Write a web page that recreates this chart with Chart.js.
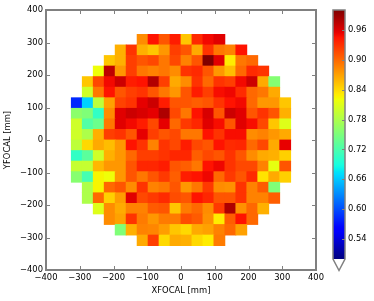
<!DOCTYPE html>
<html>
<head>
<meta charset="utf-8">
<style>
html,body{margin:0;padding:0;background:#fff;width:374px;height:301px;overflow:hidden}
canvas{position:absolute;left:0;top:0}
</style>
<script src="https://cdn.jsdelivr.net/npm/chart.js@4"></script>
</head>
<body>
<canvas id="map" width="374" height="301"></canvas>
<canvas id="bar" width="374" height="301"></canvas>
<script>
const _ = null;
const xCenters = [-308.75,-276.25,-243.75,-211.25,-178.75,-146.25,-113.75,-81.25,-48.75,-16.25,16.25,48.75,81.25,113.75,146.25,178.75,211.25,243.75,276.25,308.75];
const rowBottoms = [292.5,260,227.5,195,162.5,130,97.5,65,32.5,0,-32.5,-65,-97.5,-130,-162.5,-195,-227.5,-260,-292.5,-325];
const cellSize = 32.5;
const row00 = [_,_,_,_,_,_,.881,.945,.91,.94,.85,.933,.95,.958,_,_,_,_,_,_];
const row01 = [_,_,_,_,.862,.928,.862,.85,.875,.922,.91,.865,.928,.892,.886,.945,_,_,_,_];
const row02 = [_,_,_,.85,.862,.922,.91,.917,.892,.917,.886,.91,1.0,.958,.83,.892,.90,_,_,_];
const row03 = [_,_,.82,.973,.875,.922,.892,.886,.892,.881,.928,.933,.91,.875,.855,.90,.933,.928,_,_];
const row04 = [_,.85,.917,.95,.967,.94,.945,.978,.922,.865,.881,.928,.90,.928,.922,.95,.967,.865,.755,_];
const row05 = [_,.80,.892,.945,.91,.922,.928,.91,.892,.875,.91,.94,.922,.948,.952,.933,.90,.892,.865,_];
const row06 = [.582,.665,.79,.87,.92,.928,.956,.967,.94,.91,.91,.905,.91,.928,.945,.95,.90,.875,.875,.85];
const row07 = [.76,.752,.705,.881,.958,.967,.962,.956,.98,.917,.892,.945,.962,.91,.967,.958,.91,.928,.91,.862];
const row08 = [.80,.725,.74,.892,.958,.95,.94,.917,.956,.90,.925,.935,.958,.948,.91,.958,.948,.917,.85,.81];
const row09 = [.80,.78,.862,.922,.928,.91,.956,.922,.91,.917,.892,.892,.945,.928,.948,.948,.881,.886,.875,.865];
const row10 = [.79,.84,.865,.855,.875,.945,.928,.886,.928,.917,.94,.917,.91,.945,.933,.935,.90,.917,.865,.955];
const row11 = [.705,.73,.80,.862,.875,.90,.922,.922,.928,.935,.935,.905,.917,.91,.928,.91,.881,.865,.862,.845];
const row12 = [.795,.795,.858,.875,.875,.91,.935,.935,.94,.91,.905,.892,.945,.952,.928,.917,.917,.886,.815,.91];
const row13 = [.757,.717,.825,.82,.875,.91,.892,.91,.925,.905,.94,.945,.952,.90,.925,.91,.933,.835,.865,.845];
const row14 = [_,.78,.825,.90,.91,.881,.928,.886,.892,.91,.875,.892,.925,.881,.878,.928,.886,.907,.752,_];
const row15 = [_,.78,.90,.845,.872,.958,.917,.925,.933,.915,.91,.945,.935,.91,.91,.928,.886,.886,.905,_];
const row16 = [_,_,.81,.881,.865,.886,.886,.907,.91,.85,.89,.90,.881,.925,.98,.878,.90,.862,_,_];
const row17 = [_,_,_,.881,.87,.928,.89,.875,.89,.89,.915,.907,.878,.83,.905,.945,.90,_,_,_];
const row18 = [_,_,_,_,.752,.862,.886,.884,.872,.85,.84,.865,.87,.886,.90,.87,_,_,_,_];
const row19 = [_,_,_,_,_,_,.865,.922,.84,.865,.862,.84,.83,.89,_,_,_,_,_,_];
const rows = [row00,row01,row02,row03,row04,row05,row06,row07,row08,row09,row10,row11,row12,row13,row14,row15,row16,row17,row18,row19];
const axisTicks = [-400,-300,-200,-100,0,100,200,300,400];
const colorbarTicks = [0.54,0.60,0.66,0.72,0.78,0.84,0.90,0.96];
const vmin = 0.5, vmax = 1.0;
const FONT = {family:'"DejaVu Sans"', size:8.4};
const SPINE = '#808080';

function lerpStops(t, stops){
  if(t<=stops[0][0]) return stops[0][1];
  for(let i=1;i<stops.length;i++){
    if(t<=stops[i][0]){
      const a=stops[i-1], b=stops[i];
      return a[1]+(b[1]-a[1])*(t-a[0])/(b[0]-a[0]);
    }
  }
  return stops[stops.length-1][1];
}
const RS=[[0,0],[.35,0],[.66,1],[.89,1],[1,.5]];
const GS=[[0,0],[.125,0],[.375,1],[.64,1],[.91,0],[1,0]];
const BS=[[0,.5],[.11,1],[.34,1],[.65,0],[1,0]];
function jet(t){
  const c=s=>Math.round(255*lerpStops(t,s));
  return `rgb(${c(RS)},${c(GS)},${c(BS)})`;
}
const points=[], colors=[];
rows.forEach((row,r)=>row.forEach((v,c)=>{
  if(v===null) return;
  points.push({x:xCenters[c], y:[rowBottoms[r], rowBottoms[r]+cellSize]});
  colors.push(jet((v-vmin)/(vmax-vmin)));
}));
const minus = v => String(v).replace('-','\u2212');

const framePlugin = {
  id:'frame',
  afterDatasetsDraw(chart){
    const {ctx,chartArea:a,scales:{x,y}}=chart;
    ctx.save();
    ctx.strokeStyle=SPINE;
    ctx.lineWidth=1;
    ctx.beginPath();
    axisTicks.forEach(t=>{
      const px=Math.round(x.getPixelForValue(t))+.5, py=Math.round(y.getPixelForValue(t))+.5;
      ctx.moveTo(px,a.top); ctx.lineTo(px,a.top+4);
      ctx.moveTo(px,a.bottom); ctx.lineTo(px,a.bottom-4);
      ctx.moveTo(a.left,py); ctx.lineTo(a.left+4,py);
      ctx.moveTo(a.right,py); ctx.lineTo(a.right-4,py);
    });
    ctx.stroke();
    ctx.lineWidth=2;
    ctx.strokeRect(a.left,a.top,a.right-a.left,a.bottom-a.top);
    ctx.restore();
  }
};

new Chart(document.getElementById('map'),{
  type:'bar',
  data:{datasets:[{data:points,backgroundColor:colors,borderWidth:0,barPercentage:1,categoryPercentage:1,inflateAmount:0.4}]},
  options:{
    responsive:false,animation:false,
    layout:{padding:{top:10,right:58,left:0,bottom:0}},
    plugins:{legend:{display:false},tooltip:{enabled:false}},
    scales:{
      x:{type:'linear',min:-400,max:400,offset:false,
        afterBuildTicks(s){s.ticks=axisTicks.map(value=>({value}));},
        afterFit(s){s.height=31;},
        grid:{display:false,drawTicks:false},border:{display:false},
        ticks:{font:FONT,color:'#000',padding:3,autoSkip:false,maxRotation:0,callback:minus},
        title:{display:true,text:'XFOCAL [mm]',font:FONT,color:'#000',padding:{top:0,bottom:5}}},
      y:{type:'linear',min:-400,max:400,
        afterBuildTicks(s){s.ticks=axisTicks.map(value=>({value}));},
        afterFit(s){s.width=46;},
        grid:{display:false,drawTicks:false},border:{display:false},
        ticks:{font:FONT,color:'#000',padding:3,autoSkip:false,callback:minus},
        title:{display:true,text:'YFOCAL [mm]',font:FONT,color:'#000',padding:{top:3,bottom:0}}}
    }
  },
  plugins:[framePlugin]
});

const barPlugin = {
  id:'colorbarBody',
  beforeDatasetsDraw(chart){
    const {ctx,chartArea:a,scales:{y}}=chart;
    const g=ctx.createLinearGradient(0,a.bottom,0,a.top);
    for(let i=0;i<=100;i++) g.addColorStop(i/100,jet(i/100));
    ctx.save();
    ctx.fillStyle=g;
    ctx.fillRect(a.left,a.top,a.right-a.left,a.bottom-a.top);
    ctx.strokeStyle=SPINE;
    ctx.lineWidth=1;
    ctx.beginPath();
    colorbarTicks.forEach(t=>{
      const py=Math.round(y.getPixelForValue(t))+.5;
      ctx.moveTo(a.right,py); ctx.lineTo(a.right-3,py);
    });
    ctx.stroke();
    ctx.lineWidth=1.5;
    ctx.lineJoin='miter';
    ctx.beginPath();
    ctx.moveTo(a.left,a.bottom);
    ctx.lineTo(a.left,a.top);
    ctx.lineTo(a.right,a.top);
    ctx.lineTo(a.right,a.bottom);
    ctx.lineTo((a.left+a.right)/2,a.bottom+11.5);
    ctx.closePath();
    ctx.stroke();
    ctx.restore();
  }
};
new Chart(document.getElementById('bar'),{
  type:'bar',
  data:{labels:[''],datasets:[{data:[_]}]},
  options:{
    responsive:false,animation:false,
    layout:{padding:{top:10,bottom:42,left:333,right:0}},
    plugins:{legend:{display:false},tooltip:{enabled:false}},
    scales:{
      x:{display:false},
      y:{type:'linear',position:'right',min:vmin,max:vmax,
        afterBuildTicks(s){s.ticks=colorbarTicks.map(value=>({value}));},
        afterFit(s){s.width=29;},
        grid:{display:false,drawTicks:false},border:{display:false},
        ticks:{font:FONT,color:'#000',padding:3,autoSkip:false,callback:v=>v.toFixed(2)}}
    }
  },
  plugins:[barPlugin]
});
</script>
</body>
</html>
